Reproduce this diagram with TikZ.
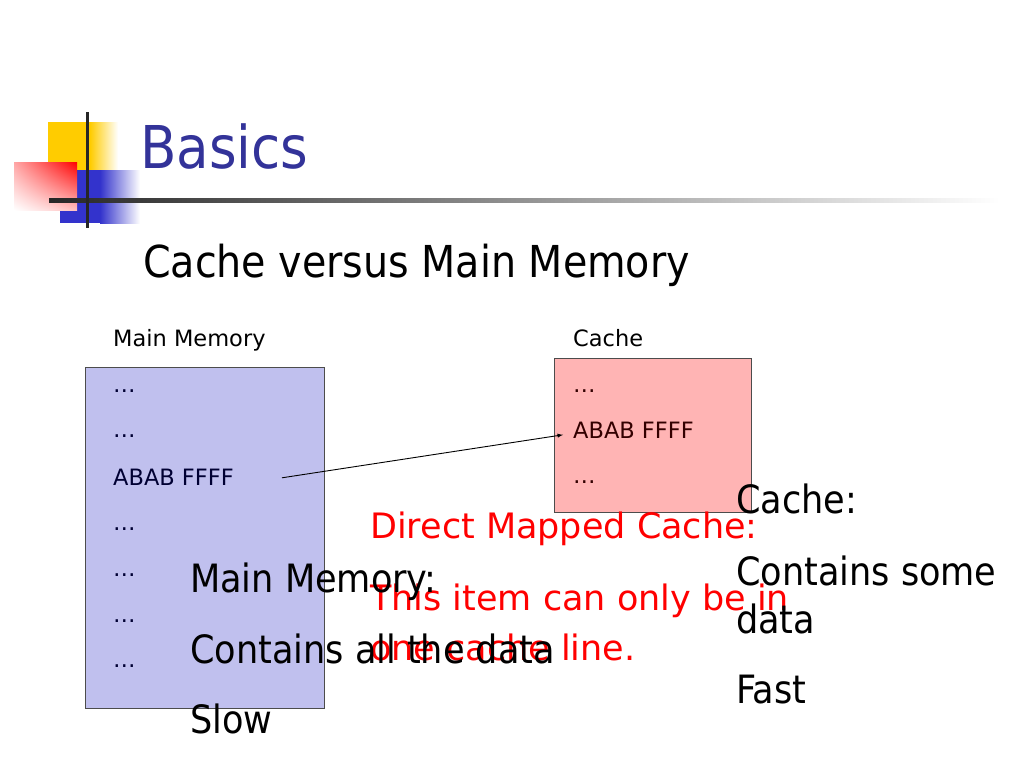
\documentclass[tikz,border=0pt]{standalone}
\usepackage{fontspec}
\setmainfont{DejaVu Sans Condensed}
\newfontfamily\widefont{DejaVu Sans}
\usepackage{tikz}
\usetikzlibrary{arrows,shapes,positioning,shadings}

\definecolor{titleblue}{RGB}{51,51,153}
\definecolor{memfill}{RGB}{192,192,238}
\definecolor{cachefill}{RGB}{255,180,180}
\definecolor{memtext}{RGB}{0,0,51}
\definecolor{cachetext}{RGB}{51,0,0}
\definecolor{logoyellow}{RGB}{255,204,0}
\definecolor{logoblue}{RGB}{51,51,204}

\begin{document}
\begin{tikzpicture}[x=1pt,y=-1pt,
    txt/.style={anchor=base west, inner sep=0pt},
    small/.style={txt, font=\widefont\fontsize{22.5}{26}\selectfont},
    big/.style={txt, font=\fontsize{39}{48}\selectfont},
    redtxt/.style={txt, text=red, font=\widefont\fontsize{35}{42}\selectfont},
    memitem/.style={small, text=memtext},
    cacheitem/.style={small, text=cachetext}]
      \useasboundingbox (0,0) rectangle (1024,768);
      % logo
      \fill[logoyellow] (48,122) rectangle (90,172);
      \shade[left color=logoyellow, right color=white] (90,122) rectangle (118,172);
      \fill[logoblue] (60,170) rectangle (100,223);
      \shade[left color=logoblue, right color=white] (100,170) rectangle (140,223);
      \shade[upper right=red, upper left=red!35, lower right=red!25, lower left=white] (14,162) rectangle (77,210);
      \shade[left color=black!85, right color=white] (49,198) rectangle (1000,202);
      \draw[line width=3pt, black!85] (87,112) -- (87,228);
      % titles
      \node[txt, text=titleblue, font=\fontsize{59}{70}\selectfont] (title) at (140,168) {Basics};
      \node[txt, font=\fontsize{44}{54}\selectfont] (sub) at (143,277) {Cache versus Main Memory};
      % boxes
      \draw[fill=memfill, draw=black!70] (85,367) rectangle (324,708);
      \draw[fill=cachefill, draw=black!70] (554,358) rectangle (751,512);
      \node[small] (memlabel) at (113,346) {Main Memory};
      \node[small] (cachelabel) at (573,346) {Cache};
      % main memory entries
      \node[memitem] (m1) at (113,392) {\dots};
      \node[memitem] (m2) at (113,437) {\dots};
      \node[memitem] (mab) at (113,485) {ABAB FFFF};
      \node[memitem] (m4) at (113,530) {\dots};
      \node[memitem] (m5) at (113,576) {\dots};
      \node[memitem] (m6) at (113,622) {\dots};
      \node[memitem] (m7) at (113,667) {\dots};
      % cache entries
      \node[cacheitem] (c1) at (573,392) {\dots};
      \node[cacheitem] (cab) at (573,438) {ABAB FFFF};
      \node[cacheitem] (c3) at (573,483) {\dots};
      \draw[-latex, line width=0.9pt] ([xshift=48pt, yshift=-1pt]mab.east) -- ([xshift=-10pt, yshift=-5pt]cab.west);
      % notes
      \node[redtxt] (dm) at (370,538) {Direct Mapped Cache:};
      \node[redtxt] (dm2) at (370,610) {This item can only be in};
      \node[redtxt] (dm3) at (370,660) {one cache line.};
      \node[big] (mm) at (190,592) {Main Memory:};
      \node[big] (mm2) at (190,663) {Contains all the data};
      \node[big] (mm3) at (190,733) {Slow};
      \node[big] (ch) at (736,513) {Cache:};
      \node[big] (ch2) at (736,585) {Contains some};
      \node[big] (ch3) at (736,633) {data};
      \node[big] (ch4) at (736,703) {Fast};
\end{tikzpicture}
\end{document}
